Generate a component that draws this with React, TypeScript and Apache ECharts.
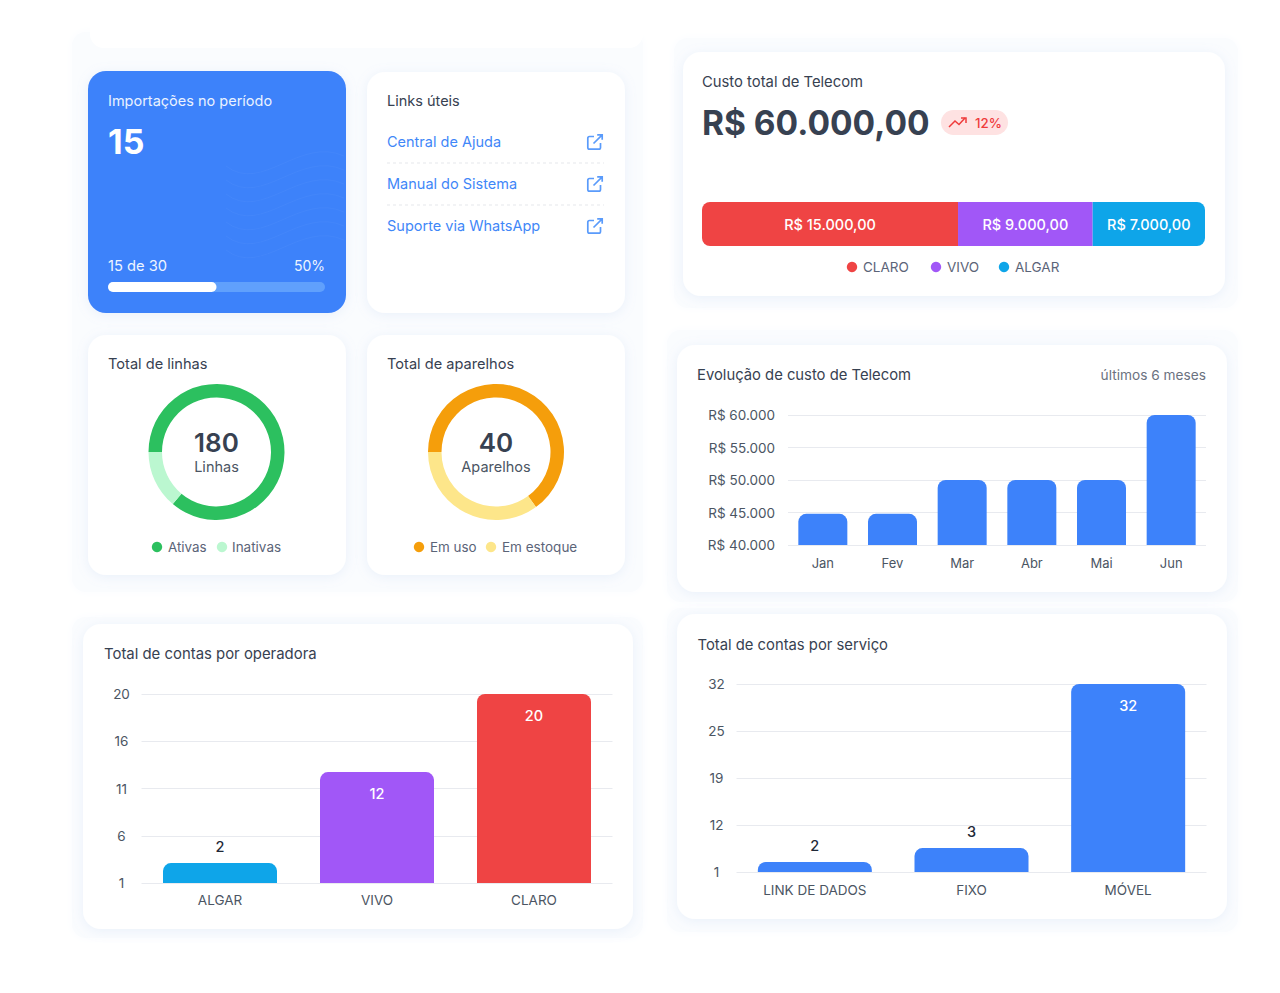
import React, { useEffect, useRef } from "react";
import * as echarts from "echarts";

const FONT = "Inter, 'Noto Sans', sans-serif";

// stacked cost bar
const shareNames = ["CLARO", "VIVO", "ALGAR"];
const shareLabels = ["R$ 15.000,00", "R$ 9.000,00", "R$ 7.000,00"];
const shareBarLengths = [15270, 8030, 6700];
const shareColors = ["#ef4444", "#a157f7", "#0ea5e9"];

// monthly evolution
const months = ["Jan", "Fev", "Mar", "Abr", "Mai", "Jun"];
const monthValues = [44800, 44800, 50000, 50000, 50000, 60000];

// donuts
const lineNames = ["Ativas", "Inativas"];
const lineValues = [155, 25];
const lineColors = ["#2cc05f", "#bbf7d0"];
const deviceNames = ["Em uso", "Em estoque"];
const deviceValues = [26, 14];
const deviceColors = ["#f59e0b", "#fde68a"];

// accounts by operator
const operators = ["ALGAR", "VIVO", "CLARO"];
const operatorLabels = [2, 12, 20];
const operatorBarValues = [3, 12.15, 20];
const operatorColors = ["#0ea5e9", "#a157f7", "#ef4444"];
const operatorTicks = [1, 5.75, 10.5, 15.25, 20];
const operatorTickLabels = ["1", "6", "11", "16", "20"];

// accounts by service
const services = ["LINK DE DADOS", "FIXO", "MÓVEL"];
const serviceLabels = [2, 3, 32];
const serviceBarValues = [2.65, 4.95, 32];
const serviceTicks = [1, 8.75, 16.5, 24.25, 32];
const serviceTickLabels = ["1", "12", "19", "25", "32"];

// links
const links = ["Central de Ajuda", "Manual do Sistema", "Suporte via WhatsApp"];

const INK = "#374151";
const MUTED = "#4b5563";
const GRID = "#e8eaef";
const BLUE = "#3d82fa";
const LEGEND = "#5b6478";

const txt = (text: string, x: number, y: number, size: number, fill: string, weight = 400, align = "left", spacing = 0) => ({
  type: "text",
  z: 5,
  style: { text, x, y: y - 0.4, fill, fontFamily: FONT, fontSize: size, fontWeight: weight, textAlign: align, textVerticalAlign: "middle", letterSpacing: spacing },
});

const card = (x: number, y: number, x2: number, y2: number, fill: any = "#ffffff") => ({
  type: "rect",
  z: -5,
  shape: { x, y, width: x2 - x, height: y2 - y, r: 18 },
  style: { fill, shadowBlur: 12, shadowColor: "rgba(147,177,230,0.16)", shadowOffsetY: 2 },
});

const panel = (x: number, y: number, x2: number, y2: number) => ({
  type: "rect",
  z: -10,
  shape: { x, y, width: x2 - x, height: y2 - y, r: 14 },
  style: { fill: "#fafcfe", shadowBlur: 10, shadowColor: "#fafcfe" },
});

const dot = (cx: number, cy: number, fill: string) => ({ type: "circle", z: 5, shape: { cx, cy, r: 5.2 }, style: { fill } });

const axisText = { fontFamily: FONT, fontSize: 13.5, color: MUTED };

const barSeries = (gridIndex: number, values: number[], labels: number[], colors: string[], outsideFirst: number) => ({
  type: "bar",
  xAxisIndex: gridIndex,
  yAxisIndex: gridIndex,
  barWidth: 114,
  silent: true,
  data: values.map((value, i) => ({
    value,
    itemStyle: { color: colors[i], borderRadius: [8, 8, 0, 0] },
    label: {
      show: true,
      formatter: String(labels[i]),
      position: i < outsideFirst ? "top" : "insideTop",
      distance: i < outsideFirst ? 9 : 14,
      color: i < outsideFirst ? "#1f2937" : "#ffffff",
      fontFamily: FONT,
      fontSize: 14.5,
      fontWeight: 500,
    },
  })),
});

const donut = (cx: number, names: string[], values: number[], colors: string[]) => ({
  type: "pie",
  center: [cx, 452],
  radius: [54.5, 68],
  startAngle: 180,
  silent: true,
  label: { show: false },
  labelLine: { show: false },
  data: names.map((name, i) => ({ name, value: values[i], itemStyle: { color: colors[i] } })),
});

const wave = (y: number) => ({
  type: "bezierCurve",
  z: 3,
  shape: { x1: 226, y1: y + 14, cpx1: 262, cpy1: y + 42, cpx2: 300, cpy2: y - 16, x2: 344, y2: y + 4 },
  style: { stroke: "rgba(255,255,255,0.03)", lineWidth: 1, fill: "none" },
});

const externalIcon = (y: number) => ({ type: "extlink", x: 587, y, z: 5, style: { stroke: "#5a9bfb", lineWidth: 1.7, fill: "none" } });

export default function App() {
  const ref = useRef<HTMLDivElement>(null);
  useEffect(() => {
    document.body.style.margin = "0";
    document.body.style.background = "#ffffff";
    echarts.graphic.registerShape(
      "extlink",
      echarts.graphic.extendPath("M7 2.5H2.5A1.7 1.7 0 0 0 0.8 4.2V13.5A1.7 1.7 0 0 0 2.5 15.2H11.8A1.7 1.7 0 0 0 13.5 13.5V9 M6.5 9.5L15.2 0.8 M10.2 0.8H15.2V5.8", {})
    );
    const chart = echarts.init(ref.current!, null, { renderer: "svg" });
    const elements: any[] = [
      panel(72, 32, 643, 592),
      { type: "rect", z: -9, shape: { x: 90, y: 10, width: 553, height: 38, r: [0, 0, 14, 14] }, style: { fill: "#ffffff" } },
      panel(72, 617, 643, 938),
      panel(674, 38, 1238, 308),
      panel(667, 330, 1238, 602),
      panel(667, 608, 1238, 932),
      card(88, 71, 346, 313, BLUE),
      card(367, 72, 625, 313),
      card(88, 335, 346, 575),
      card(367, 335, 625, 575),
      card(683, 52, 1225, 296),
      card(677, 345, 1227, 592),
      card(83, 624, 633, 929),
      card(677, 614, 1227, 919),
      ...[152, 166, 180, 194, 208, 222, 236].map(wave),
      txt("Importações no período", 108, 101, 14.5, "#eaf2ff", 400),
      txt("15", 108, 142, 34, "#ffffff", 700),
      txt("15 de 30", 108, 266, 14.7, "#eef5ff", 400),
      txt("50%", 325, 266, 14, "#eef5ff", 400, "right"),
      { type: "rect", z: 4, shape: { x: 108, y: 282, width: 217, height: 10, r: 5 }, style: { fill: "#60a0fc" } },
      { type: "rect", z: 5, shape: { x: 108, y: 282, width: 108.5, height: 10, r: 5 }, style: { fill: "#ffffff" } },
      txt("Links úteis", 387, 101, 14.5, INK, 400),
      ...links.map((l, i) => txt(l, 387, 142 + i * 42, 14.5, "#3f87f8", 400, "left", 0.15)),
      ...links.map((_, i) => externalIcon(134 + i * 42)),
      ...[163, 205].map((y) => ({ type: "line", z: 5, shape: { x1: 387, y1: y, x2: 604, y2: y }, style: { stroke: "#e5e7eb", lineWidth: 1, lineDash: [3, 3] } })),
      txt("Total de linhas", 108, 364, 14.6, INK, 400),
      txt("180", 216.5, 443, 26, INK, 600, "center"),
      txt("Linhas", 216.5, 467, 14.5, MUTED, 400, "center"),
      dot(157, 547, lineColors[0]),
      txt(lineNames[0], 168, 547.5, 13.4, LEGEND, 400),
      dot(222, 547, lineColors[1]),
      txt(lineNames[1], 232, 547.5, 13.5, LEGEND, 400),
      txt("Total de aparelhos", 387, 364, 14.6, INK, 400),
      txt("40", 496, 443, 26, INK, 600, "center"),
      txt("Aparelhos", 496, 467, 14.5, MUTED, 400, "center"),
      dot(419, 547, deviceColors[0]),
      txt(deviceNames[0], 430, 547.5, 13.4, LEGEND, 400),
      dot(491, 547, deviceColors[1]),
      txt(deviceNames[1], 502, 547.5, 13.5, LEGEND, 400),
      txt("Custo total de Telecom", 702, 82, 14.8, INK, 400),
      txt("R$ 60.000,00", 702, 123, 33.5, INK, 700),
      { type: "rect", z: 4, shape: { x: 941, y: 110, width: 67, height: 25, r: 12.5 }, style: { fill: "#fee2e2" } },
      { type: "polyline", z: 5, shape: { points: [[949, 127], [955, 121], [959, 124.5], [965, 118]] }, style: { stroke: "#ef3b3b", lineWidth: 1.5, fill: "none" } },
      { type: "polyline", z: 5, shape: { points: [[961, 118], [966, 118], [966, 123]] }, style: { stroke: "#ef3b3b", lineWidth: 1.5, fill: "none" } },
      txt("12%", 975, 123, 13.3, "#ef3b3b", 500),
      dot(852, 267, shareColors[0]),
      txt(shareNames[0], 863, 267.5, 13.5, LEGEND, 400),
      dot(936, 267, shareColors[1]),
      txt(shareNames[1], 947, 267.5, 13.5, LEGEND, 400),
      dot(1004, 267, shareColors[2]),
      txt(shareNames[2], 1015, 267.5, 13.5, LEGEND, 400),
      txt("Evolução de custo de Telecom", 697, 375, 14.8, INK, 400),
      txt("últimos 6 meses", 1206, 375, 13.7, "#6b7280", 400, "right"),
      txt("Total de contas por operadora", 104, 654, 14.9, INK, 400),
      txt("Total de contas por serviço", 697.5, 645, 14.8, INK, 400),
    ];

    const hiddenAxis = { show: false };
    const splitLine = { show: true, lineStyle: { color: GRID, width: 1 } };

    const shareTotal = shareBarLengths.reduce((a, b) => a + b, 0);

    chart.setOption({
      animation: false,
      backgroundColor: "#ffffff",
      graphic: { elements },
      grid: [
        { left: 702, top: 202, width: 503, height: 44 },
        { left: 788, top: 415, width: 418, height: 130 },
        { left: 141.5, top: 694, width: 471, height: 189 },
        { left: 736.5, top: 684, width: 470, height: 188 },
      ],
      xAxis: [
        { ...hiddenAxis, type: "value", gridIndex: 0, min: 0, max: shareTotal },
        {
          type: "category", gridIndex: 1, data: months,
          axisLine: { show: false }, axisTick: { show: false },
          axisLabel: { ...axisText, fontSize: 13, margin: 11 },
        },
        {
          type: "category", gridIndex: 2, data: operators,
          axisLine: { show: false }, axisTick: { show: false },
          axisLabel: { ...axisText, fontSize: 13.5, margin: 10 },
        },
        {
          type: "category", gridIndex: 3, data: services,
          axisLine: { show: false }, axisTick: { show: false },
          axisLabel: { ...axisText, fontSize: 13.5, margin: 11 },
        },
      ],
      yAxis: [
        { ...hiddenAxis, type: "category", gridIndex: 0, data: ["Custo"] },
        {
          type: "value", gridIndex: 1, min: 40000, max: 60000, interval: 5000,
          axisLine: { show: false }, axisTick: { show: false }, splitLine,
          axisLabel: { ...axisText, margin: 13, formatter: (v: number) => "R$ " + v.toLocaleString("pt-BR") },
        },
        {
          type: "value", gridIndex: 2, min: 1, max: 20,
          axisLine: { show: false }, splitLine,
          axisTick: { show: false, customValues: operatorTicks },
          axisLabel: {
            ...axisText, margin: 20, align: "center", customValues: operatorTicks,
            formatter: (v: number) => operatorTickLabels[operatorTicks.indexOf(v)],
          },
        },
        {
          type: "value", gridIndex: 3, min: 1, max: 32,
          axisLine: { show: false }, splitLine,
          axisTick: { show: false, customValues: serviceTicks },
          axisLabel: {
            ...axisText, margin: 20, align: "center", customValues: serviceTicks,
            formatter: (v: number) => serviceTickLabels[serviceTicks.indexOf(v)],
          },
        },
      ],
      series: [
        ...shareBarLengths.map((v, i) => ({
          type: "bar",
          name: shareNames[i],
          stack: "custo",
          xAxisIndex: 0,
          yAxisIndex: 0,
          barWidth: 44,
          silent: true,
          data: [v],
          itemStyle: {
            color: shareColors[i],
            borderRadius: i === 0 ? [8, 0, 0, 8] : i === shareBarLengths.length - 1 ? [0, 8, 8, 0] : 0,
          },
          label: { show: true, position: "inside", formatter: shareLabels[i], color: "#ffffff", fontFamily: FONT, fontSize: 14.5, fontWeight: 500 },
        })),
        {
          type: "bar",
          xAxisIndex: 1,
          yAxisIndex: 1,
          barWidth: 49,
          silent: true,
          data: monthValues,
          itemStyle: { color: BLUE, borderRadius: [8, 8, 0, 0] },
        },
        barSeries(2, operatorBarValues, operatorLabels, operatorColors, 1),
        barSeries(3, serviceBarValues, serviceLabels, [BLUE, BLUE, BLUE], 2),
        donut(216.5, lineNames, lineValues, lineColors),
        donut(496, deviceNames, deviceValues, deviceColors),
      ],
    });
    return () => chart.dispose();
  }, []);
  return <div ref={ref} style={{ position: "absolute", left: 0, top: 0, width: 1280, height: 993 }} />;
}
